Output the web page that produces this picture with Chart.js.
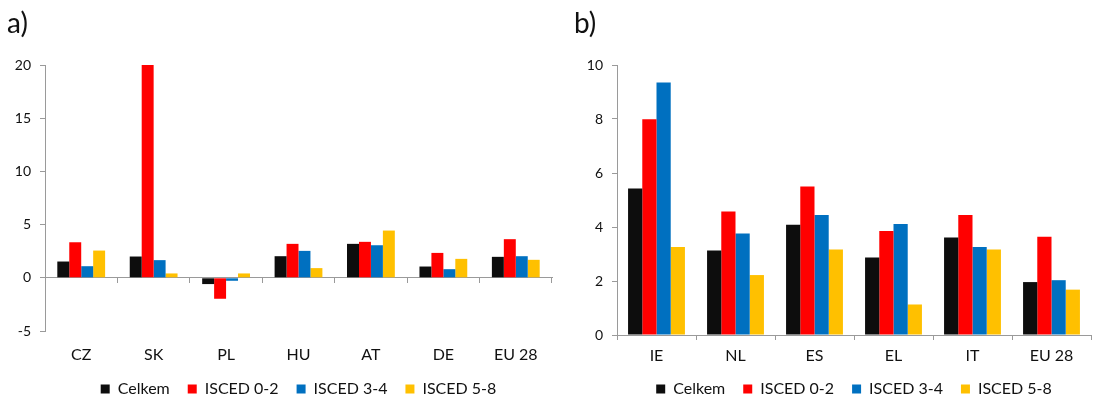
<!DOCTYPE html>
<html>
<head>
<meta charset="utf-8">
<script src="https://cdn.jsdelivr.net/npm/chart.js@4.4.1/dist/chart.umd.min.js"></script>
<style>
  body { margin: 0; width: 1107px; height: 396px; overflow: hidden; background: #fff; position: relative; font-family: Lato, sans-serif; }
  .panel { position: absolute; top: 0; height: 407px; }
  .tag { position: absolute; top: 4px; font-size: 28px; color: #111; line-height: 1; }
</style>
</head>
<body>
<div class="panel" style="left:0;width:558px"><canvas id="chart-a"></canvas></div>
<div class="panel" style="left:558px;width:549px"><canvas id="chart-b"></canvas></div>
<div class="tag" style="left:7px;top:8px">a)</div>
<div class="tag" style="left:574px;top:8px">b)</div>
<script>
const seriesNames = ["Celkem", "ISCED 0-2", "ISCED 3-4", "ISCED 5-8"];
const seriesColors = ["#0d0d0d", "#ff0000", "#0070c0", "#ffc000"];

// panel a)
const countriesA = ["CZ", "SK", "PL", "HU", "AT", "DE", "EU 28"];
const celkemA = [1.53, 2.0, -0.59, 2.03, 3.19, 1.06, 1.97];
const isced02A = [3.34, 20.0, -1.97, 3.19, 3.38, 2.34, 3.63];
const isced34A = [1.09, 1.66, -0.28, 2.53, 3.06, 0.81, 2.03];
const isced58A = [2.56, 0.41, 0.41, 0.91, 4.44, 1.78, 1.69];
const rangeA = [-5, 20, 5];

// panel b)
const countriesB = ["IE", "NL", "ES", "EL", "IT", "EU 28"];
const celkemB = [5.43, 3.13, 4.08, 2.87, 3.61, 1.96];
const isced02B = [7.99, 4.57, 5.5, 3.85, 4.44, 3.64];
const isced34B = [9.35, 3.76, 4.44, 4.11, 3.26, 2.03];
const isced58B = [3.26, 2.22, 3.17, 1.13, 3.17, 1.68];
const rangeB = [0, 10, 2];

const axisGray = "#9a9a9a";
Chart.defaults.font.family = "Lato, sans-serif";
Chart.defaults.color = "#111";

const buildDatasets = (series) =>
  series.map((values, i) => ({
    label: seriesNames[i],
    data: values,
    backgroundColor: seriesColors[i],
    borderWidth: 0,
  }));

const buildChart = (id, labels, series, range, cfg) => {
  const scales = {
    y: {
      min: range[0],
      max: range[1],
      ticks: { stepSize: range[2], padding: 9, font: { size: 14 } },
      grid: { drawOnChartArea: false, drawTicks: true, tickLength: 5, color: axisGray },
      border: { color: axisGray },
      afterFit: (scale) => { scale.width = cfg.yWidth; },
    },
    x: {
      offset: true,
      ticks: { padding: cfg.labelPad, font: { size: 16 } },
      grid: cfg.zeroAxis
        ? { display: false, drawTicks: false }
        : { offset: true, drawOnChartArea: false, drawTicks: true, tickLength: 5, color: axisGray },
      border: { display: !cfg.zeroAxis, color: axisGray },
      afterFit: (scale) => { scale.height = cfg.xHeight; },
    },
  };
  if (cfg.zeroAxis) {
    // category axis line drawn at value 0 of the y scale
    scales.xZero = {
      type: "category",
      position: { y: 0 },
      offset: true,
      ticks: { display: false },
      grid: { offset: true, drawOnChartArea: false, drawTicks: true, tickLength: 5, color: axisGray },
      border: { color: axisGray },
    };
  }
  return new Chart(document.getElementById(id), {
    type: "bar",
    data: { labels, datasets: buildDatasets(series) },
    options: {
      responsive: true,
      maintainAspectRatio: false,
      animation: false,
      datasets: { bar: { categoryPercentage: cfg.catPct, barPercentage: 1 } },
      layout: { padding: { top: 65, right: cfg.rightPad, left: 0, bottom: 0 } },
      plugins: {
        tooltip: { enabled: false },
        legend: {
          position: "bottom",
          fullSize: false,
          labels: { boxWidth: 9, boxHeight: 9, padding: 18, font: { size: 16 }, color: "#111" },
        },
      },
      scales,
    },
  });
};

buildChart("chart-a", countriesA, [celkemA, isced02A, isced34A, isced58A], rangeA,
  { yWidth: 45, rightPad: 6, xHeight: 32, labelPad: 14, catPct: 0.66, zeroAxis: true });
buildChart("chart-b", countriesB, [celkemB, isced02B, isced34B, isced58B], rangeB,
  { yWidth: 59, rightPad: 16, xHeight: 28, labelPad: 6, catPct: 0.72, zeroAxis: false });
</script>
</body>
</html>
